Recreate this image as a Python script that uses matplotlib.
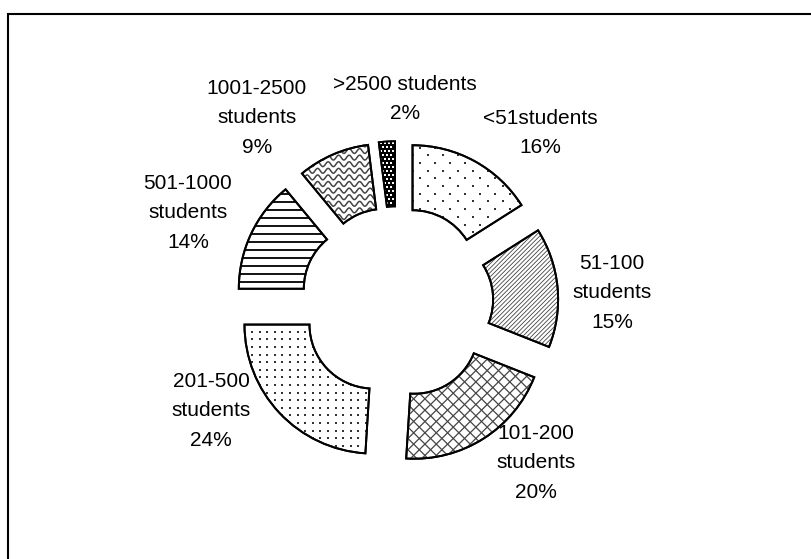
import numpy as np
import matplotlib.pyplot as plt
from matplotlib.patches import Rectangle, PathPatch
from matplotlib.collections import LineCollection

plt.rcParams['font.family'] = ['Liberation Sans', 'DejaVu Sans']

# data
categories = ['<51students', '51-100\nstudents', '101-200\nstudents', '201-500\nstudents',
              '501-1000\nstudents', '1001-2500\nstudents', '>2500 students']
shares = [16, 15, 20, 24, 14, 9, 2]

# layout (pixels, top-left origin)
W, H = 812, 559
label_pos = [(540, 133), (612, 293), (536, 463), (211, 411),
             (188, 213), (257, 118), (405, 99)]


def clip_to(ax, art, w):
    art.set_zorder(w.get_zorder() + 0.1)
    art.set_clip_path(w)


def add_lines(ax, w, angle, spacing, lw=0.8, color='#333333'):
    b = w.get_path().get_extents()
    c = np.array([(b.x0 + b.x1) / 2, (b.y0 + b.y1) / 2])
    R = np.hypot(b.width, b.height) / 2 + spacing
    a = np.deg2rad(angle)
    d = np.array([np.cos(a), np.sin(a)])
    n = np.array([-np.sin(a), np.cos(a)])
    segs = [[c + n * k - d * R, c + n * k + d * R] for k in np.arange(-R, R, spacing)]
    lc = LineCollection(segs, colors=color, linewidths=lw)
    ax.add_collection(lc)
    clip_to(ax, lc, w)


def add_dots(ax, w, dx, dy, stagger=True, size=1.6, color='#333333', marker='s'):
    b = w.get_path().get_extents()
    pts = []
    for i, yy in enumerate(np.arange(b.y0 - dy, b.y1 + dy, dy)):
        off = dx / 2 if (stagger and i % 2) else 0
        for xx in np.arange(b.x0 - dx + off, b.x1 + dx, dx):
            pts.append((xx, yy))
    pts = np.array(pts)
    sc = ax.scatter(pts[:, 0], pts[:, 1], marker=marker, s=(size * 0.72) ** 2,
                    color=color, linewidths=0)
    clip_to(ax, sc, w)


def add_waves(ax, w, step=6.6, period=10.5, amp=2.4):
    b = w.get_path().get_extents()
    xs = np.linspace(b.x0 - 5, b.x1 + 5, 300)
    segs = []
    for yy in np.arange(b.y0 - step, b.y1 + step, step):
        segs.append(np.column_stack([xs, yy + amp * np.sin(2 * np.pi * xs / period)]))
    lc = LineCollection(segs, colors='#444444', linewidths=1.1)
    ax.add_collection(lc)
    clip_to(ax, lc, w)


fig = plt.figure(figsize=(W / 100, H / 100), dpi=100)
ax = fig.add_axes([0, 0, 1, 1])

cx, cy = 397.0, H - 302.5
r_out = 129

wedges, _ = ax.pie(shares, radius=r_out, center=(cx, cy), startangle=90,
                   counterclock=False, explode=[0.25 * r_out] * len(shares),
                   wedgeprops=dict(width=65, facecolor='white', edgecolor='black',
                                   linewidth=1.4))

# black & white fill patterns, one per slice
add_dots(ax, wedges[0], 15.0, 7.7)
add_lines(ax, wedges[1], 45, 3.1, lw=0.6, color='#444444')
add_lines(ax, wedges[2], 45, 8.0, lw=0.9, color='#444444')
add_lines(ax, wedges[2], -45, 8.0, lw=0.9, color='#444444')
add_dots(ax, wedges[3], 7.6, 7.6, stagger=False)
add_lines(ax, wedges[4], 0, 8.0, lw=1.3, color='black')
add_waves(ax, wedges[5])
wedges[6].set_facecolor('black')
add_dots(ax, wedges[6], 4.0, 4.0, size=2.2, color='white')

# redraw outlines over the textures
for w in wedges:
    ax.add_patch(PathPatch(w.get_path(), fill=False, edgecolor='black',
                           linewidth=1.4, zorder=5))

for cat, v, (lx, ly) in zip(categories, shares, label_pos):
    ax.text(lx, H - ly, f'{cat}\n{v}%', ha='center', va='center',
            multialignment='center', fontsize=15, linespacing=1.73, color='black')

ax.add_patch(Rectangle((8.5, -50), 900, H - 13.5 + 50, fill=False,
                       edgecolor='black', linewidth=1.5, zorder=6))

ax.set_xlim(0, W)
ax.set_ylim(0, H)
ax.set_aspect('equal')
ax.axis('off')

fig.savefig('out.png', dpi=100)
